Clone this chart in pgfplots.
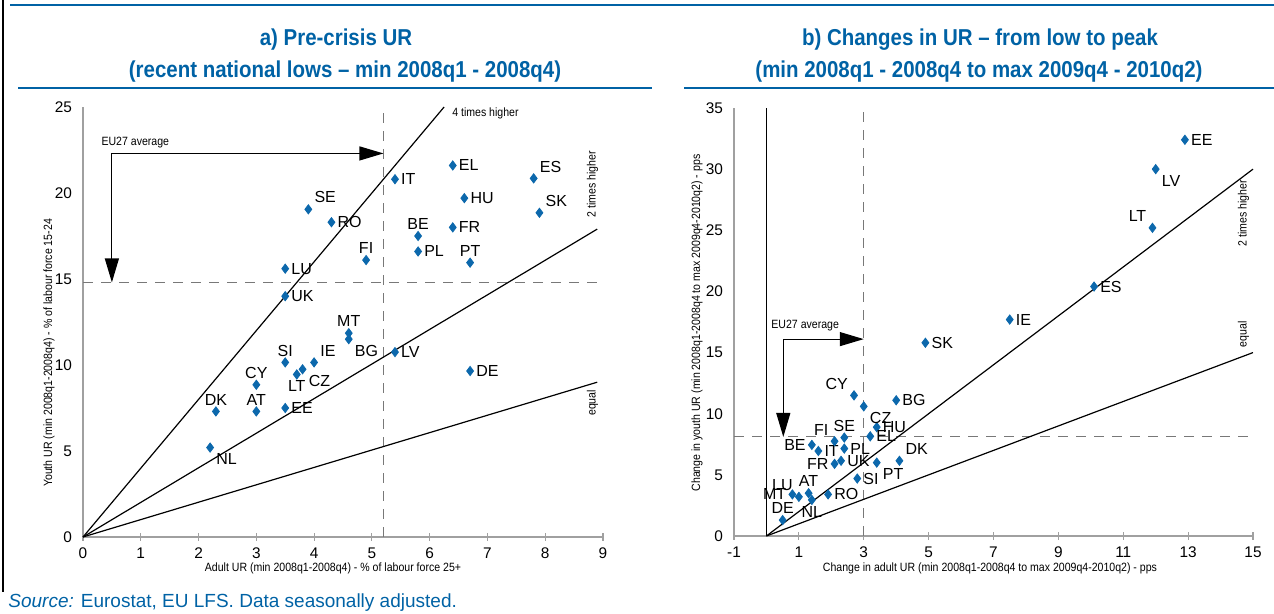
\documentclass[border=0pt]{standalone}
\usepackage{fontspec}
\setmainfont{Liberation Sans}
\newfontfamily\condfont{Liberation Sans}[FakeStretch=0.88]
\newfontfamily\titlefont{Liberation Sans}[FakeStretch=0.89]
\usepackage{pgfplots}
\pgfplotsset{compat=1.18}
\usetikzlibrary{arrows.meta}
\definecolor{ecblue}{RGB}{0,98,165}
\definecolor{ptblue}{RGB}{12,104,172}
\definecolor{axgray}{RGB}{160,160,160}
\definecolor{dashgray}{RGB}{120,120,120}

\tikzset{arr/.style={line width=0.6pt, -{Triangle[length=12pt,width=7pt]}}}
\pgfplotsset{
  ecstyle/.style={
    anchor=south west, scale only axis, clip=false,
    axis lines=left, axis line style={axgray, line width=0.9pt, -},
    tick style={axgray, line width=0.6pt}, major tick length=4pt,
    ytick style={draw=none},
    tick label style={font=\fontsize{7.7}{9}\selectfont},
    /pgf/number format/assume math mode=true,
  },
  pts/.style={only marks, mark=diamond*, mark size=2.3pt, color=ptblue,
    nodes near coords, point meta=explicit symbolic,
    every node near coord/.append style={anchor=#1, text=black,
      font=\fontsize{8}{9}\selectfont, inner sep=2.9pt}},
  refline/.style={black, line width=0.6pt, no marks},
  dline/.style={dashgray, line width=0.5pt, dash pattern=on 5pt off 4pt, no marks},
}

\begin{document}
\begin{tikzpicture}[x=0.5pt,y=0.5pt]
\useasboundingbox (0,0) rectangle (1274,614);
% frame lines
\draw[ecblue, line width=1.1pt] (10,609) -- (1274,609);
\draw[ecblue, line width=1.1pt] (18,526) -- (652,526);
\draw[ecblue, line width=1.1pt] (684,526) -- (1274,526);
\draw[black, line width=0.8pt] (3,614) -- (3,22);
% titles
\node[text=ecblue, font=\titlefont\bfseries\fontsize{11.5}{13}\selectfont] at (336,574) {a) Pre-crisis UR};
\node[text=ecblue, font=\titlefont\bfseries\fontsize{11.5}{13}\selectfont] at (345,542) {(recent national lows – min 2008q1 - 2008q4)};
\node[text=ecblue, font=\titlefont\bfseries\fontsize{11.5}{13}\selectfont] at (980,574) {b) Changes in UR – from low to peak};
\node[text=ecblue, font=\titlefont\bfseries\fontsize{11.5}{13}\selectfont] at (979,542) {(min 2008q1 - 2008q4 to max 2009q4 - 2010q2)};
% axis labels
\node[rotate=90, font=\condfont\fontsize{6}{7}\selectfont] at (49,261) {Youth UR (min 2008q1-2008q4) - \% of labour force 15-24};
\node[font=\condfont\fontsize{6}{7}\selectfont] at (333,46) {Adult UR (min 2008q1-2008q4) - \% of labour force 25+};
\node[rotate=90, font=\condfont\fontsize{6}{7}\selectfont] at (697,291) {Change in youth UR (min 2008q1-2008q4 to max 2009q4-2010q2) - pps};
\node[font=\condfont\fontsize{6}{7}\selectfont] at (990,46) {Change in adult UR (min 2008q1-2008q4 to max 2009q4-2010q2) - pps};
% source
\node[anchor=base west, text=ecblue, font=\fontsize{9.5}{11}\selectfont, inner sep=0pt] at (8,6) {\textit{Source:} Eurostat, EU LFS. Data seasonally adjusted.};

% ---- left panel
\begin{axis}[ecstyle, at={(41.5pt,38.5pt)}, width=260pt, height=215pt,
  xmin=0, xmax=9, ymin=0, ymax=25,
  xtick={0,1,...,9}, ytick={0,5,...,25}]
\addplot[dline] coordinates {(5.2,0) (5.2,25)};
\addplot[dline] coordinates {(0,14.8) (9,14.8)};
\addplot[refline] coordinates {(0,0) (6.25,25)};
\addplot[refline] coordinates {(0,0) (8.9,17.9)};
\addplot[refline] coordinates {(0,0) (8.9,9.0)};
\draw[arr] (axis cs:0.5,22.3) -- (axis cs:5.2,22.3);
\draw[arr] (axis cs:0.5,22.3) -- (axis cs:0.5,14.8);
\node[anchor=south west, inner sep=1pt, font=\condfont\fontsize{6}{7}\selectfont] at (axis cs:0.28,22.5) {EU27 average};
\node[anchor=west, inner sep=1pt, font=\condfont\fontsize{6}{7}\selectfont] at (axis cs:6.35,24.6) {4 times higher};
\node[rotate=90, inner sep=1pt, font=\condfont\fontsize{6}{7}\selectfont] at (axis cs:8.82,20.5) {2 times higher};
\node[rotate=90, inner sep=1pt, font=\condfont\fontsize{6}{7}\selectfont] at (axis cs:8.82,7.8) {equal};
\addplot[pts=west] table[meta=lab] {
x y lab
5.4 20.8 IT
6.4 21.6 EL
6.6 19.7 HU
4.3 18.3 RO
6.4 18.0 FR
5.8 16.6 PL
3.5 15.6 LU
3.5 14.0 UK
3.5 7.5 EE
5.4 10.75 LV
6.7 9.65 DE
};
\addplot[pts=south west] table[meta=lab] {
x y lab
7.8 20.85 ES
7.9 18.85 SK
3.9 19.05 SE
4.0 10.15 IE
};
\addplot[pts=south] table[meta=lab] {
x y lab
5.8 17.5 BE
4.9 16.1 FI
6.7 15.95 PT
4.6 11.85 MT
3.5 10.15 SI
3.0 8.85 CY
2.3 7.3 DK
3.0 7.3 AT
};
\addplot[pts=north west] table[meta=lab] {
x y lab
4.6 11.5 BG
3.8 9.75 CZ
2.2 5.2 NL
};
\addplot[pts=north] table[meta=lab] {
x y lab
3.7 9.45 LT
};
\end{axis}

% ---- right panel
\begin{axis}[ecstyle, at={(367pt,39pt)}, width=259.5pt, height=214pt,
  xmin=-1, xmax=15, ymin=0, ymax=35,
  xtick={-1,1,...,15}, ytick={0,5,...,35}]
\addplot[dline] coordinates {(3,0) (3,35)};
\addplot[dline] coordinates {(-1,8.1) (15,8.1)};
\addplot[refline] coordinates {(0,0) (0,35)};
\addplot[refline] coordinates {(0,0) (15,30)};
\addplot[refline] coordinates {(0,0) (15,15)};
\draw[arr] (axis cs:0.52,16.1) -- (axis cs:3,16.1);
\draw[arr] (axis cs:0.52,16.1) -- (axis cs:0.52,8.1);
\node[anchor=south west, inner sep=1pt, font=\condfont\fontsize{6}{7}\selectfont] at (axis cs:0.08,16.6) {EU27 average};
\node[rotate=90, inner sep=1pt, font=\condfont\fontsize{6}{7}\selectfont] at (axis cs:14.71,26.4) {2 times higher};
\node[rotate=90, inner sep=1pt, font=\condfont\fontsize{6}{7}\selectfont] at (axis cs:14.71,16.5) {equal};
\addplot[pts=west] table[meta=lab] {
x y lab
12.9 32.4 EE
10.1 20.4 ES
7.5 17.7 IE
4.9 15.8 SK
4.0 11.1 BG
3.4 8.9 HU
3.2 8.15 EL
1.6 6.95 IT
2.4 7.15 PL
2.3 6.15 UK
2.8 4.7 SI
1.9 3.4 RO
};
\addplot[pts=north west] table[meta=lab] {
x y lab
12.0 30.0 LV
3.0 10.6 CZ
3.4 6.0 PT
};
\addplot[pts=south east] table[meta=lab] {
x y lab
11.9 25.2 LT
2.7 11.5 CY
2.1 7.75 FI
1.0 3.2 LU
};
\addplot[pts=south] table[meta=lab] {
x y lab
2.4 8.05 SE
1.3 3.5 AT
0.5 1.3 DE
};
\addplot[pts=east] table[meta=lab] {
x y lab
1.4 7.45 BE
2.1 5.9 FR
0.8 3.4 MT
};
\addplot[pts=south west] table[meta=lab] {
x y lab
4.1 6.15 DK
};
\addplot[pts=north] table[meta=lab] {
x y lab
1.4 2.95 NL
};
\end{axis}
\end{tikzpicture}
\end{document}
